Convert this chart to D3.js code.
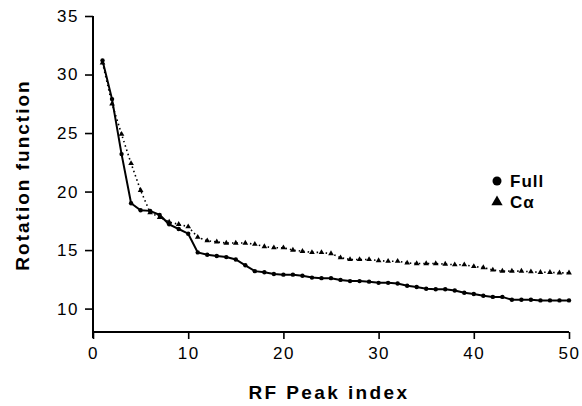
<!DOCTYPE html>
<html>
<head>
<meta charset="utf-8">
<script src="https://cdn.jsdelivr.net/npm/d3@7"></script>
<style>
  body { margin: 0; background: #fff; }
  text { font-family: "Liberation Sans", Arial, sans-serif; fill: #000; }
</style>
</head>
<body>
<div id="chart"></div>
<script>
// RF peak index 1..50
const peakIndex = d3.range(1, 51);

// Full model (circles, solid line)
const fullValues = [
    31.2, 27.9, 23.2, 19.0, 18.4, 18.35, 18.0, 17.2, 16.8, 16.4,
    14.8, 14.6, 14.5, 14.4, 14.2, 13.7, 13.2, 13.1, 12.95, 12.9,
    12.9, 12.8, 12.65, 12.6, 12.6, 12.45, 12.35, 12.35, 12.3, 12.2,
    12.2, 12.15, 11.95, 11.85, 11.7, 11.65, 11.65, 11.55, 11.35, 11.25,
    11.1, 11.0, 11.0, 10.75, 10.75, 10.75, 10.7, 10.7, 10.7, 10.7
];

// C-alpha model (triangles, dotted line)
const caValues = [
    31.0, 27.5, 24.9, 22.4, 20.1, 18.2, 17.8, 17.4, 17.2, 17.0,
    16.1, 15.8, 15.7, 15.6, 15.6, 15.6, 15.5, 15.3, 15.2, 15.2,
    15.0, 14.9, 14.8, 14.8, 14.7, 14.35, 14.2, 14.2, 14.2, 14.1,
    14.05, 14.05, 13.9, 13.85, 13.85, 13.85, 13.8, 13.75, 13.75, 13.6,
    13.5, 13.3, 13.2, 13.2, 13.2, 13.15, 13.1, 13.1, 13.05, 13.05
];

const xTicks = [0, 10, 20, 30, 40, 50];
const yTicks = [10, 15, 20, 25, 30, 35];
const legendLabels = ["Full", "C\u03b1"];

const width = 582, height = 406;
const x0 = 93, x1 = 569, yTop = 16, yBottom = 332;

const svg = d3.select("#chart")
    .append("svg")
    .attr("width", width)
    .attr("height", height);

const x = d3.scaleLinear().domain([0, 50]).range([x0, x1]);
const y = d3.scaleLinear().domain([8, 35]).range([yBottom, yTop]);

// axes
const xAxis = svg.append("g")
    .attr("transform", `translate(0,${yBottom})`)
    .call(d3.axisBottom(x).tickValues(xTicks).tickSize(7).tickSizeOuter(0).tickPadding(8));
const yAxis = svg.append("g")
    .attr("transform", `translate(${x0},0)`)
    .call(d3.axisLeft(y).tickValues(yTicks).tickSize(8).tickSizeOuter(0).tickPadding(6));

[xAxis, yAxis].forEach((g) => {
    g.select(".domain").attr("stroke", "#000").attr("stroke-width", 2);
    g.selectAll(".tick line").attr("stroke", "#000").attr("stroke-width", 1.6);
    g.selectAll(".tick text")
        .attr("fill", "#000")
        .style("font-size", "17px")
        .style("letter-spacing", "1.5px")
        .style("font-family", "'Liberation Sans', Arial, sans-serif");
});
// y axis runs a little past the corner
yAxis.select(".domain").attr("d", `M0,${yTop}V${yBottom + 6}`);
xAxis.select(".domain").attr("d", `M${x0},0H${x1}`);

// series
const lineGen = d3.line()
    .x((d, i) => x(peakIndex[i]))
    .y((d) => y(d));

svg.append("path")
    .datum(caValues)
    .attr("fill", "none")
    .attr("stroke", "#000")
    .attr("stroke-width", 1.6)
    .attr("stroke-dasharray", "1.5,3")
    .attr("d", lineGen);

svg.append("path")
    .datum(fullValues)
    .attr("fill", "none")
    .attr("stroke", "#000")
    .attr("stroke-width", 2)
    .attr("d", lineGen);

const tri = d3.symbol().type(d3.symbolTriangle).size(14);

svg.append("g")
    .selectAll("path")
    .data(caValues)
    .enter()
    .append("path")
    .attr("d", tri)
    .attr("transform", (d, i) => `translate(${x(peakIndex[i])},${y(d)})`)
    .attr("fill", "#000");

svg.append("g")
    .selectAll("circle")
    .data(fullValues)
    .enter()
    .append("circle")
    .attr("cx", (d, i) => x(peakIndex[i]))
    .attr("cy", (d) => y(d))
    .attr("r", 2.2)
    .attr("fill", "#000");

// legend
const legend = svg.append("g").attr("transform", "translate(497,181)");
legend.append("circle").attr("cx", 0).attr("cy", 0).attr("r", 4.5).attr("fill", "#000");
legend.append("path")
    .attr("d", d3.symbol().type(d3.symbolTriangle).size(55))
    .attr("transform", "translate(0,21)")
    .attr("fill", "#000");
legend.selectAll("text")
    .data(legendLabels)
    .enter()
    .append("text")
    .attr("x", 13)
    .attr("y", (d, i) => 6 + i * 21)
    .style("font-size", "17px")
    .style("font-weight", "bold")
    .style("letter-spacing", "1px")
    .text((d) => d);

// axis titles
svg.append("text")
    .attr("x", 329)
    .attr("y", 399)
    .attr("text-anchor", "middle")
    .style("font-size", "19px")
    .style("font-weight", "bold")
    .style("letter-spacing", "2.4px")
    .text("RF Peak index");

svg.append("text")
    .attr("transform", "translate(29,175) rotate(-90)")
    .attr("text-anchor", "middle")
    .style("font-size", "19px")
    .style("font-weight", "bold")
    .style("letter-spacing", "2px")
    .text("Rotation function");
</script>
</body>
</html>
